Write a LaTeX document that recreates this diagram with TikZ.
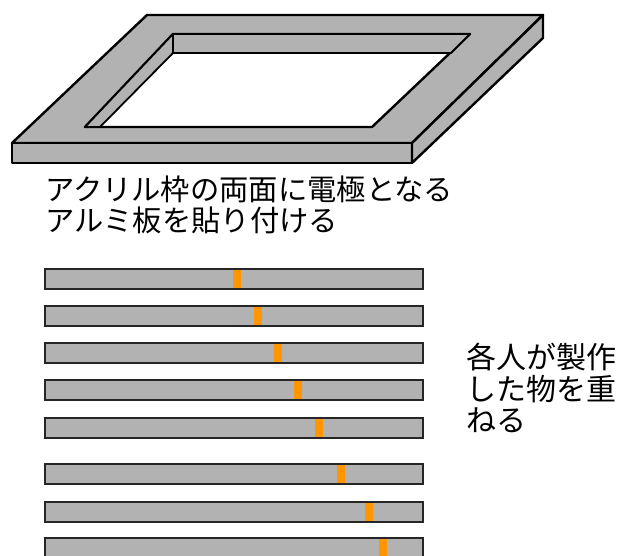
\documentclass[tikz,border=0pt]{standalone}
\usepackage{fontspec}
\newfontfamily\jafont{Noto Sans CJK JP}
\usepackage{tikz}
\usetikzlibrary{positioning}
\definecolor{framegray}{RGB}{178,178,178}
\definecolor{markorange}{RGB}{255,150,0}

\tikzset{
  face/.style={fill=framegray, draw=black, line width=2.4pt, line join=round},
  plate/.style={draw=black!85, line width=2pt},
  tab/.style={fill=markorange},
  caption/.style={align=left, inner sep=0pt}
}

\begin{document}
\begin{tikzpicture}[x=1pt,y=-1pt]
  \useasboundingbox (0,0) rectangle (622,556);

  % top face of the acrylic frame (outer ring minus the opening)
  \draw[face, even odd rule]
    (12,143) -- (412,143) -- (543,15) -- (147,15) -- cycle
    (85,127) -- (372,127) -- (470,34) -- (173,34) -- cycle;

  % inner walls seen through the opening
  \draw[face, line width=1.8pt] (173,34) -- (470,34) -- (451,53) -- (173,53) -- cycle;
  \draw[face, line width=1.8pt] (173,34) -- (173,53) -- (100,127) -- (85,127) -- cycle;

  % front and right side of the frame
  \draw[face] (12,143) rectangle (412,163);
  \draw[face] (412,143) -- (543,15) -- (543,38) -- (412,163) -- cycle;

  \node[caption, font=\jafont\fontsize{29.3}{31}\selectfont, anchor=north west] (frametext) at (45,176)
    {アクリル枠の両面に電極となる\\アルミ板を貼り付ける};

  % stacked plates, each with its own tab
  \foreach \ytop/\mk in {269/237, 306/258, 343/278, 380/298,
                         418/319, 464/341, 502/369, 538/383}{
    \fill[framegray] (45,\ytop) rectangle (423,\ytop+20);
    \fill[tab] (\mk-4,\ytop-1) rectangle (\mk+4,\ytop+20);
    \draw[plate] (45,\ytop) rectangle (423,\ytop+20);
  }

  \node[caption, font=\jafont\fontsize{30}{31.5}\selectfont, anchor=north west] (stacktext) at (466,343)
    {各人が製作\\した物を重\\ねる};
\end{tikzpicture}
\end{document}
